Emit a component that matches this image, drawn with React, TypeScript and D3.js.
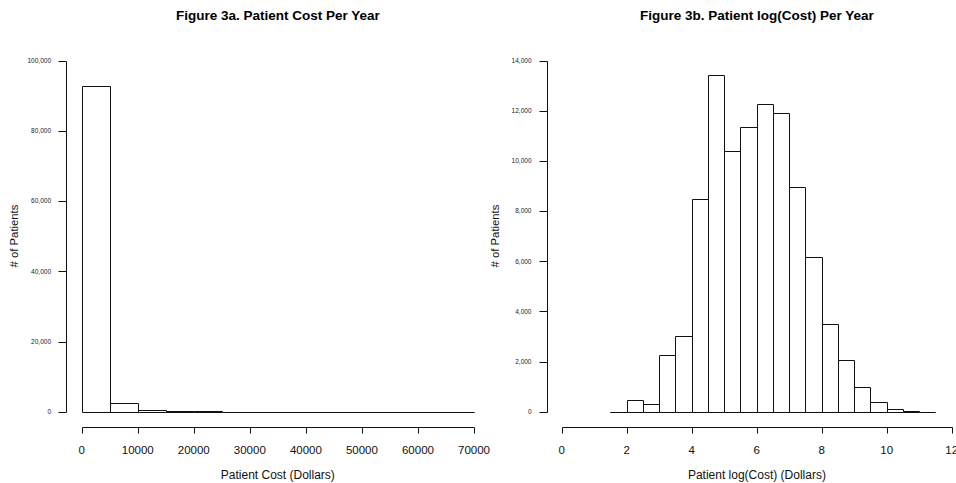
import React from 'react';
import * as d3 from 'd3';

// Figure 3a: cost bins (dollars), width 5000
const costBins = [0, 5000, 10000, 15000, 20000, 25000, 30000, 35000, 40000, 45000, 50000, 55000, 60000, 65000];
const costCounts = [92700, 2400, 500, 180, 80, 40, 25, 15, 10, 6, 4, 0, 0, 1];
const costXTicks = [0, 10000, 20000, 30000, 40000, 50000, 60000, 70000];
const costYTicks = [0, 20000, 40000, 60000, 80000, 100000];

// Figure 3b: log(cost) bins, width 0.5
const logBins = [1.5, 2, 2.5, 3, 3.5, 4, 4.5, 5, 5.5, 6, 6.5, 7, 7.5, 8, 8.5, 9, 9.5, 10, 10.5, 11];
const logCounts = [5, 470, 307, 2262, 3020, 8496, 13430, 10385, 11370, 12260, 11900, 8950, 6170, 3483, 2062, 970, 372, 93, 30, 5];
const logXTicks = [0, 2, 4, 6, 8, 10, 12];
const logYTicks = [0, 2000, 4000, 6000, 8000, 10000, 12000, 14000];

const FONT = 'Arial, "Liberation Sans", Helvetica, sans-serif';
const INK = '#111';
const fmt = d3.format(',');
const px = (v: number) => Math.round(v) + 0.5;

type PanelProps = {
  title: string;
  xLabel: string;
  bins: number[];
  width: number;
  counts: number[];
  xTicks: number[];
  yTicks: number[];
  xDomain: [number, number];
  yDomain: [number, number];
  x0: number; // pixel of xDomain[0]
  x1: number;
  axisX: number; // y axis line position
};

function Panel(p: PanelProps) {
  const x = d3.scaleLinear().domain(p.xDomain).range([p.x0, p.x1]);
  const y = d3.scaleLinear().domain(p.yDomain).range([411.7, 60.7]);
  const axisY = 426.7;
  const plotCenter = (p.axisX + (p.x1 + (p.x1 - p.x0) * 0.04)) / 2;

  return (
    <g>
      <text x={plotCenter} y={20} textAnchor="middle" fontFamily={FONT} fontWeight="bold" fontSize={13.5} fill="#000">
        {p.title}
      </text>

      {/* bars: drawn as paths so zero-height bins still show on the baseline */}
      {p.counts.map((c, i) => {
        const l = px(x(p.bins[i]));
        const r = px(x(p.bins[i] + p.width));
        const t = px(y(c));
        const b = px(y(0));
        return (
          <path
            key={i}
            d={`M${l},${b}V${t}H${r}V${b}Z`}
            fill="#fff"
            stroke={INK}
            strokeWidth={1}
          />
        );
      })}

      {/* y axis */}
      <line x1={px(p.axisX)} x2={px(p.axisX)} y1={px(y(p.yTicks[p.yTicks.length - 1]))} y2={px(y(0))} stroke={INK} />
      {p.yTicks.map((t) => (
        <g key={t}>
          <line x1={px(p.axisX) - 8} x2={px(p.axisX)} y1={px(y(t))} y2={px(y(t))} stroke={INK} />
          <text x={p.axisX - 15} y={y(t) + 2.3} textAnchor="end" fontFamily={FONT} fontSize={6.5} fill="#222">
            {fmt(t)}
          </text>
        </g>
      ))}
      <text
        transform={`translate(${p.axisX - 48},${236}) rotate(-90)`}
        textAnchor="middle"
        fontFamily={FONT}
        fontSize={11.3}
        fill="#111"
      >
        # of Patients
      </text>

      {/* x axis */}
      <line x1={px(x(p.xTicks[0]))} x2={px(x(p.xTicks[p.xTicks.length - 1]))} y1={px(axisY)} y2={px(axisY)} stroke={INK} />
      {p.xTicks.map((t) => (
        <g key={t}>
          <line x1={px(x(t))} x2={px(x(t))} y1={px(axisY)} y2={px(axisY) + 6} stroke={INK} />
          <text x={x(t)} y={453.5} textAnchor="middle" fontFamily={FONT} fontSize={11.5} fill="#111">
            {t}
          </text>
        </g>
      ))}
      <text x={plotCenter} y={479} textAnchor="middle" fontFamily={FONT} fontSize={12} fill="#111">
        {p.xLabel}
      </text>
    </g>
  );
}

export default function App() {
  return (
    <svg
      width={956}
      height={483}
      style={{ position: 'absolute', left: 0, top: 0, display: 'block', background: '#fff' }}
    >
      <rect width={956} height={483} fill="#fff" />
      <Panel
        title="Figure 3a. Patient Cost Per Year"
        xLabel="Patient Cost (Dollars)"
        bins={costBins}
        width={5000}
        counts={costCounts}
        xTicks={costXTicks}
        yTicks={costYTicks}
        xDomain={[0, 70000]}
        yDomain={[0, 100000]}
        x0={81.7}
        x1={474}
        axisX={66}
      />
      <Panel
        title="Figure 3b. Patient log(Cost) Per Year"
        xLabel="Patient log(Cost) (Dollars)"
        bins={logBins}
        width={0.5}
        counts={logCounts}
        xTicks={logXTicks}
        yTicks={logYTicks}
        xDomain={[0, 12]}
        yDomain={[0, 14000]}
        x0={561.7}
        x1={951.7}
        axisX={546.5}
      />
    </svg>
  );
}
